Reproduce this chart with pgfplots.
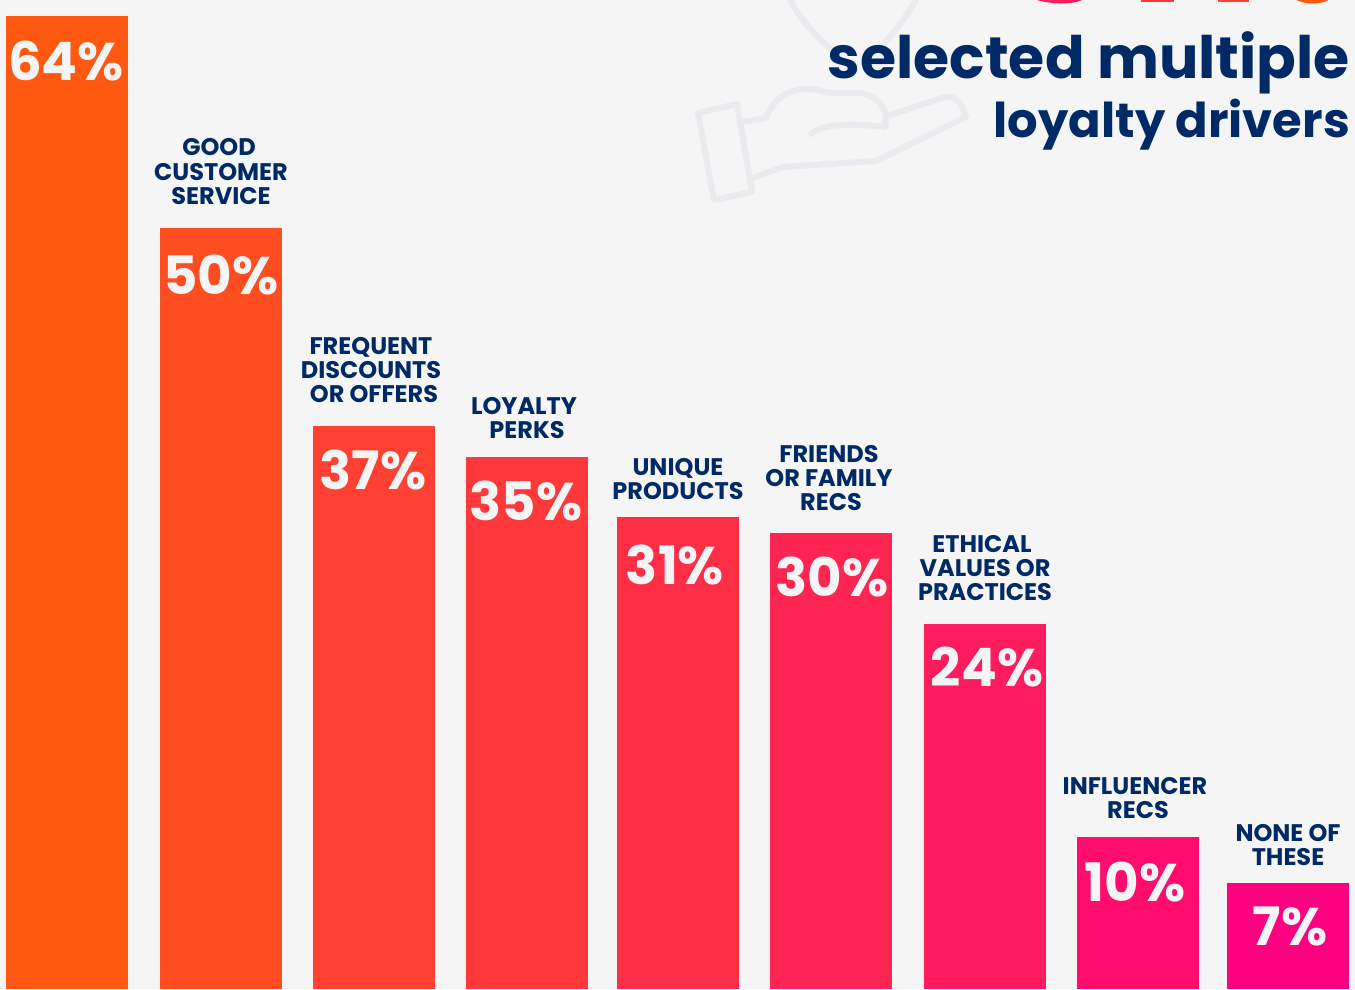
\documentclass[border=0pt]{standalone}
\usepackage{pgfplots}
\pgfplotsset{compat=1.18}
\usepackage{fontspec}
\setmainfont{Poppins}
\definecolor{bgc}{HTML}{F5F5F5}
\definecolor{navy}{HTML}{002A66}
\definecolor{iconc}{HTML}{EAEBEF}
\definecolor{c1}{HTML}{FF5810}
\definecolor{c2}{HTML}{FF4D22}
\definecolor{c3}{HTML}{FF4033}
\definecolor{c4}{HTML}{FF383B}
\definecolor{c5}{HTML}{FF2E47}
\definecolor{c6}{HTML}{FF2552}
\definecolor{c7}{HTML}{FF1C5E}
\definecolor{c8}{HTML}{FF0C6C}
\definecolor{c9}{HTML}{FF0080}
\newcommand{\lab}[3]{\node[font=\fontsize{24}{24}\selectfont\bfseries,text=navy,inner sep=0pt,anchor=base] at (#1,#2+1) {#3};}
\newcommand{\pct}[3]{\node[font=\fontsize{53}{53}\selectfont\bfseries,text=bgc,inner sep=0pt,anchor=base] at (#1,#2) {#3\%};}
\begin{document}
\begin{tikzpicture}[x=1pt,y=1pt]
\clip (0,0) rectangle (1355,989);
\fill[bgc] (0,0) rectangle (1355,989);
\begin{axis}[at={(0,0)},anchor=south west,scale only axis,width=1355pt,height=989pt,
 xmin=0,xmax=1355,ymin=0,ymax=65.02,axis lines=none,ybar,bar shift=0pt,bar width=122pt]
\addplot[fill=c1,draw=none] coordinates {(67,64)};
\addplot[fill=c2,draw=none] coordinates {(221,50)};
\addplot[fill=c3,draw=none] coordinates {(374,37)};
\addplot[fill=c4,draw=none] coordinates {(527,35)};
\addplot[fill=c5,draw=none] coordinates {(678,31)};
\addplot[fill=c6,draw=none] coordinates {(831,30)};
\addplot[fill=c7,draw=none] coordinates {(985,24)};
\addplot[fill=c8,draw=none] coordinates {(1138,10)};
\addplot[fill=c9,draw=none] coordinates {(1288,7)};
\end{axis}
\begin{scope}[shift={(0,989)},yscale=-1]
% icon
\begin{scope}[iconc,line width=6pt,line join=round,line cap=round]
\draw (698,113) -- (737,104) -- (752,192) -- (714,200) -- cycle;
\draw (742,122) -- (766,118) .. controls (775,95) and (795,82) .. (829,93) -- (861,93) .. controls (878,97) and (889,108) .. (885,127) .. controls (860,124) and (825,122) .. (811,134);
\draw (890,115) -- (945,97) .. controls (955,95) and (962,103) .. (966,117) -- (876,161) -- (783,167) -- (753,178);
\draw (788,-4) .. controls (800,20) and (815,35) .. (834,52);
\draw (918,-4) .. controls (908,15) and (895,32) .. (880,48);
\end{scope}
% cropped headline number at the top edge
\fill[c7] (1032,-2) .. controls (1040,3) and (1075,7) .. (1085,-2) -- cycle;
\fill[c4] (1141,-1) rectangle (1174,2);
\fill[c3] (1218,-1) rectangle (1249,2);
\fill[c1] (1295,-1) .. controls (1303,5) and (1323,5) .. (1330,-1) -- cycle;
% heading
\node[font=\fontsize{58.5}{59}\selectfont\bfseries,text=navy,inner sep=0pt,anchor=base east] at (1350,79) {selected multiple};
\node[font=\fontsize{48}{50}\selectfont\bfseries,text=navy,inner sep=0pt,anchor=base east] at (1350,138) {loyalty drivers};
% labels
\lab{219}{155}{GOOD}\lab{221}{180}{CUSTOMER}\lab{221}{204}{SERVICE}
\lab{371}{354}{FREQUENT}\lab{371}{378}{DISCOUNTS}\lab{374}{402}{OR OFFERS}
\lab{524}{414}{LOYALTY}\lab{527}{438}{PERKS}
\lab{678}{475}{UNIQUE}\lab{678}{499}{PRODUCTS}
\lab{829}{462}{FRIENDS}\lab{829}{486}{OR FAMILY}\lab{831}{510}{RECS}
\lab{982}{552}{ETHICAL}\lab{985}{576}{VALUES OR}\lab{985}{600}{PRACTICES}
\lab{1135}{793}{INFLUENCER}\lab{1138}{817}{RECS}
\lab{1288}{840}{NONE OF}\lab{1288}{864}{THESE}
% percentages
\pct{66}{81}{64}\pct{221}{295}{50}\pct{373}{490}{37}\pct{526}{521}{35}
\pct{675}{585}{31}\pct{832}{597}{30}\pct{987}{687}{24}\pct{1135}{901}{10}\pct{1290}{945}{7}
\end{scope}
\end{tikzpicture}
\end{document}
